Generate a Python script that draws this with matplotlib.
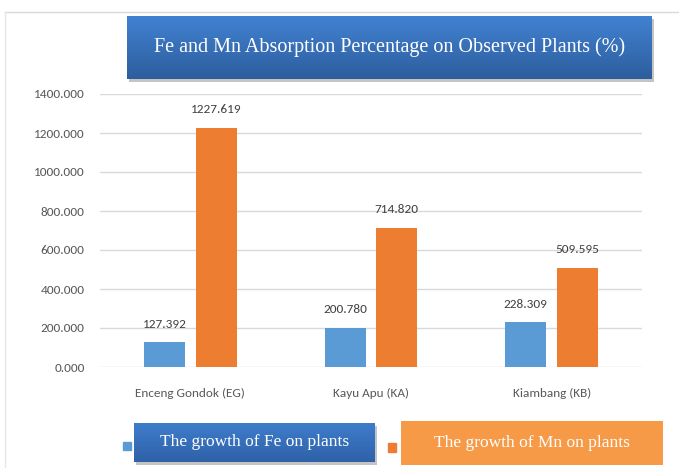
import matplotlib
matplotlib.use("Agg")
import matplotlib.pyplot as plt
import numpy as np
from matplotlib.patches import Rectangle
from matplotlib.lines import Line2D

categories = ["Enceng Gondok (EG)", "Kayu Apu (KA)", "Kiambang (KB)"]
fe_values = [127.392, 200.780, 228.309]
mn_values = [1227.619, 714.820, 509.595]
yticks = [0, 200, 400, 600, 800, 1000, 1200, 1400]
title = "Fe and Mn Absorption Percentage on Observed Plants (%)"
fe_label = "The growth of Fe on plants"
mn_label = "The growth of Mn on plants"

SANS = ["Carlito", "DejaVu Sans"]
SERIF = ["Liberation Serif", "DejaVu Serif"]

W, H = 679, 468
fig = plt.figure(figsize=(W/100, H/100), dpi=100)
fig.patch.set_facecolor("white")

def fx(px): return px / W
def fy(py): return 1 - py / H

# outer frame lines
fig.add_artist(Line2D([fx(5), fx(679)], [fy(12), fy(12)], color="#d9d9d9", lw=1, zorder=-5))
fig.add_artist(Line2D([fx(5), fx(5)], [fy(12), fy(468)], color="#e6e6e6", lw=1, zorder=-5))

ax = fig.add_axes([fx(100), fy(367), fx(642) - fx(100), fy(94) - fy(367)])
x = np.arange(len(categories))
bw = 0.226
off = 0.143
blue = "#5B9BD5"
orange = "#ED7D31"
b1 = ax.bar(x - off, fe_values, bw, color=blue, zorder=3)
b2 = ax.bar(x + off, mn_values, bw, color=orange, zorder=3)
for bars, vals in ((b1, fe_values), (b2, mn_values)):
    for r, v in zip(bars, vals):
        ax.annotate(f"{v:.3f}", (r.get_x() + r.get_width()/2, v), xytext=(0, 9),
                    textcoords="offset points", ha="center", va="bottom",
                    fontsize=9.5, color="#404040", family=SANS)
ax.set_xlim(-0.5, 2.5)
ax.set_ylim(0, 1400)
ax.set_yticks(yticks)
ax.set_yticklabels([f"{v:.3f}" for v in yticks])
ax.set_xticks(x)
ax.set_xticklabels(categories)
ax.grid(axis="y", color="#d9d9d9", lw=1, zorder=0)
for s in ax.spines.values():
    s.set_visible(False)
ax.tick_params(length=0, colors="#595959", labelsize=9.5)
ax.tick_params(axis="y", pad=11)
ax.tick_params(axis="x", pad=15)
for lab in ax.get_xticklabels() + ax.get_yticklabels():
    lab.set_family(SANS)
    lab.set_color("#595959")

def grad_box(x0, y0, x1, y1, top, bot, text, fs, shadow=True):
    if shadow:
        sax = fig.add_axes([fx(x0 + 2), fy(y1 + 3), fx(x1 - x0), fy(y0) - fy(y1)], zorder=4)
        sax.set_axis_off()
        sax.add_patch(Rectangle((0, 0), 1, 1, color="#c4c4c4", transform=sax.transAxes))
    bax = fig.add_axes([fx(x0), fy(y1), fx(x1 - x0), fy(y0) - fy(y1)], zorder=5)
    t = np.array(matplotlib.colors.to_rgb(top))
    b = np.array(matplotlib.colors.to_rgb(bot))
    n = 64
    g = np.linspace(0, 1, n)[:, None, None]
    img = t * (1 - g) + b * g
    bax.imshow(img, aspect="auto", extent=[0, 1, 0, 1])
    bax.set_axis_off()
    bax.text(0.5, 0.5, text, ha="center", va="center", color="white", fontsize=fs,
             family=SERIF, transform=bax.transAxes)
    return bax

grad_box(127, 16, 652, 79, "#4282d2", "#2d5e9e", title, 14.5)

# legend markers
fig.add_artist(Rectangle((fx(123), fy(450)), fx(8), fy(442) - fy(450), color=blue))
fig.add_artist(Rectangle((fx(388), fy(452)), fx(8), fy(443) - fy(452), color=orange))
grad_box(134, 423, 375, 462, "#3e7dcc", "#2f62a8", fe_label, 12.5)
grad_box(401, 421, 663, 465, "#f79a48", "#f79a48", mn_label, 12.5, shadow=False)

fig.savefig("out.png", dpi=100)
